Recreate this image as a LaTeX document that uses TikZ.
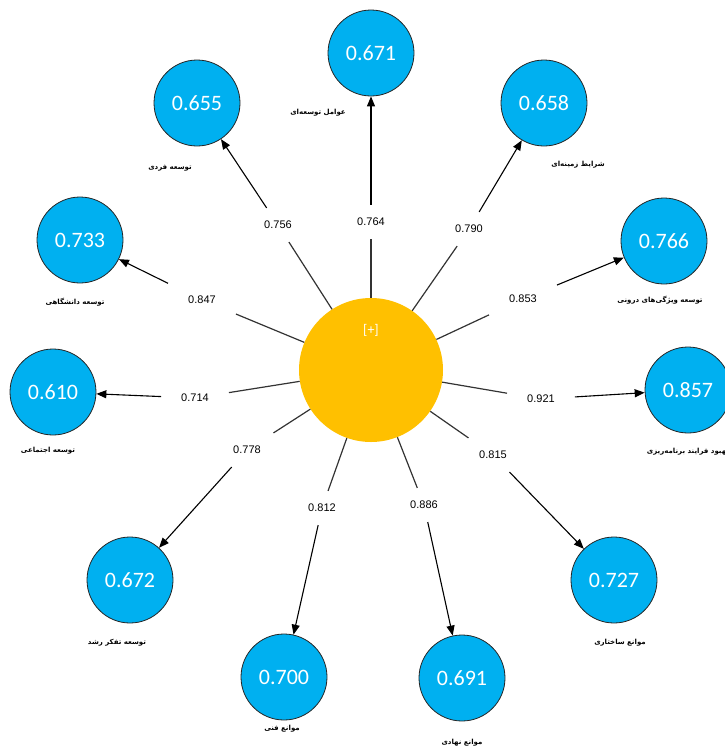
\documentclass[tikz,border=0pt]{standalone}
\usepackage{fontspec}
\setmainfont{Liberation Sans}
\newfontfamily\numfont{Carlito}
\newfontfamily\arabicfont[Script=Arabic]{DejaVu Sans}
\TeXXeTstate=1
\usetikzlibrary{arrows.meta}
\tikzset{>={Triangle[length=10pt,width=8pt]}}
\definecolor{lvblue}{RGB}{0,176,240}
\definecolor{lvyellow}{RGB}{255,192,0}

\begin{document}
\begin{tikzpicture}[x=1pt,y=-1pt,
  latent/.style={circle,draw=black!85,line width=0.8pt,fill=lvblue,minimum size=86pt,inner sep=0pt,text=white,font=\numfont\fontsize{22}{22}\selectfont},
  coef/.style={inner xsep=20pt,inner ysep=13pt,font=\fontsize{11}{11}\selectfont},
  pname/.style={font=\arabicfont\bfseries\fontsize{7}{7}\selectfont},
  stub/.style={draw=black!80,line width=1.2pt},
  path/.style={draw=black,line width=1.1pt,->}]
\useasboundingbox (0,0) rectangle (725,750);
    % composite in the middle
    \node[circle,fill=lvyellow,minimum size=144pt] (main) at (371,370) {};
    \node[text=white,font=\numfont\fontsize{14}{14}\selectfont] (plus) at (371,330) {[+]};
    % indicators
    \node[latent] (c671) at (371,53) {0.671};
    \node[latent] (c655) at (197,103) {0.655};
    \node[latent] (c658) at (544,103) {0.658};
    \node[latent] (c733) at (80,240) {0.733};
    \node[latent] (c766) at (664,241) {0.766};
    \node[latent] (c610) at (53,392) {0.610};
    \node[latent] (c857) at (688,390) {0.857};
    \node[latent] (c672) at (130,580) {0.672};
    \node[latent] (c727) at (614,580) {0.727};
    \node[latent] (c700) at (284,677) {0.700};
    \node[latent] (c691) at (462,678) {0.691};
    % names
    \node[pname] (n671) at (318,113) {\beginR عوامل توسعه‌ای\endR};
    \node[pname] (n655) at (170,168) {\beginR توسعه فردی\endR};
    \node[pname] (n658) at (578,165) {\beginR شرایط زمینه‌ای\endR};
    \node[pname] (n733) at (75,302) {\beginR توسعه دانشگاهی\endR};
    \node[pname] (n766) at (660,300) {\beginR توسعه ویژگی‌های درونی\endR};
    \node[pname] (n610) at (48,451) {\beginR توسعه اجتماعی\endR};
    \node[pname] (n857) at (688,452) {\beginR بهبود فرایند برنامه‌ریزی\endR};
    \node[pname] (n672) at (117,643) {\beginR توسعه تفکر رشد\endR};
    \node[pname] (n727) at (620,643) {\beginR موانع ساختاری\endR};
    \node[pname] (n700) at (282,729) {\beginR موانع فنی\endR};
    \node[pname] (n691) at (462,743) {\beginR موانع نهادی\endR};
    % weights
    \node[coef] (k764) at (371,222) {0.764};
    \node[coef] (k756) at (278,225) {0.756};
    \node[coef] (k790) at (469,229) {0.790};
    \node[coef] (k847) at (202,300) {0.847};
    \node[coef] (k853) at (523,299) {0.853};
    \node[coef] (k714) at (195,398) {0.714};
    \node[coef] (k921) at (541,399) {0.921};
    \node[coef] (k778) at (247,450) {0.778};
    \node[coef] (k815) at (493,455) {0.815};
    \node[coef] (k812) at (322,508) {0.812};
    \node[coef] (k886) at (424,505) {0.886};
    % connections
    \foreach \k/\c in {764/671,756/655,790/658,847/733,853/766,714/610,921/857,778/672,815/727,812/700,886/691}{
        \path[stub] (main) -- (k\k);
        \path[path] (k\k) -- (c\c);
    }
\end{tikzpicture}
\end{document}
